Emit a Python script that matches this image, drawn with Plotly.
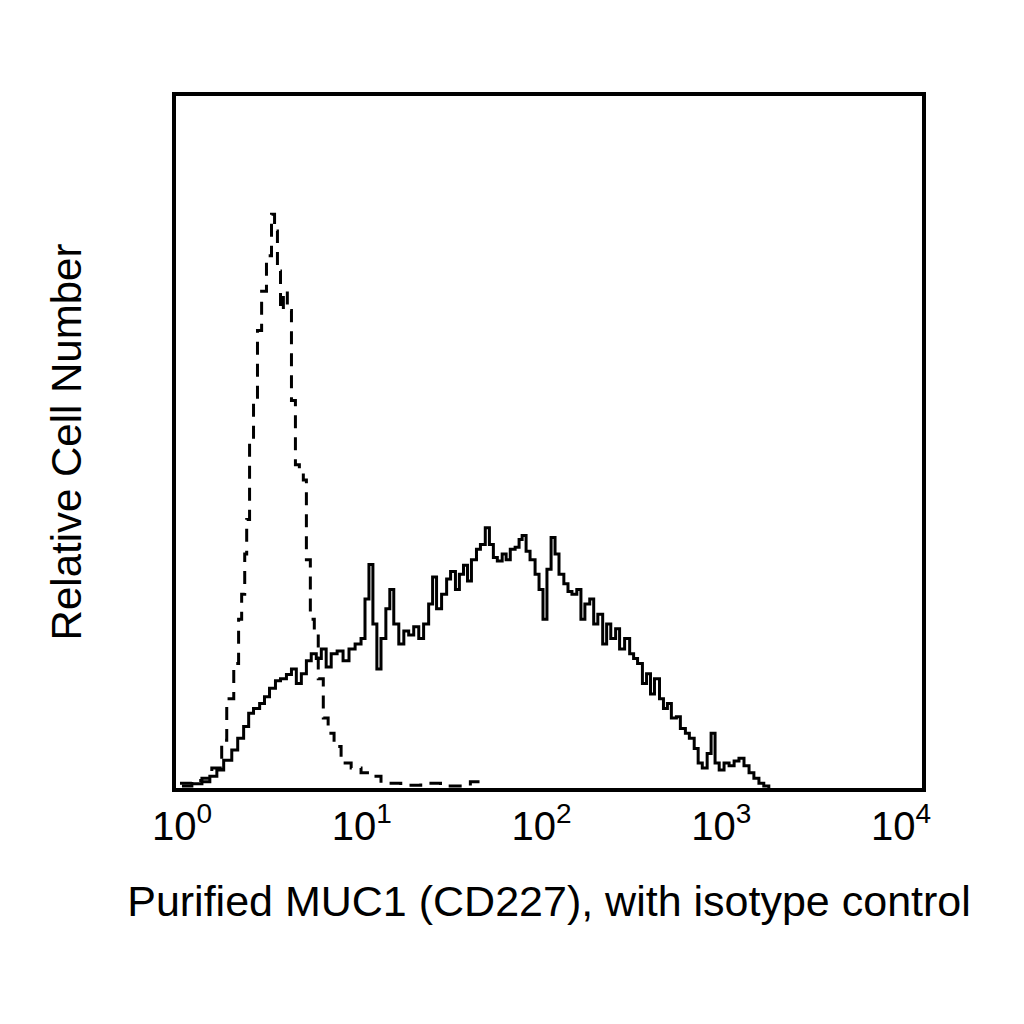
import numpy as np
import plotly.graph_objects as go

# Histogram data: x positions are log10 decades, y is relative count (0-100)
iso_log = [-0.011, 0.055, 0.111, 0.166, 0.221, 0.249, 0.288, 0.315, 0.332, 0.349,
           0.360, 0.376, 0.398, 0.420, 0.443, 0.470, 0.498, 0.515, 0.531, 0.548,
           0.564, 0.586, 0.609, 0.631, 0.653, 0.675, 0.692, 0.714, 0.736, 0.758,
           0.786, 0.813, 0.846, 0.885, 0.941, 0.996, 1.051, 1.107, 1.217, 1.328,
           1.438, 1.604, 1.660]
iso_count = [0.7, 1.1, 1.4, 2.9, 6.9, 12.9, 18.0, 24.4, 28.0, 33.8,
             38.8, 50.3, 56.0, 66.1, 71.8, 76.9, 82.9, 80.5, 74.7, 69.0,
             71.8, 69.0, 56.0, 46.7, 46.0, 44.5, 33.0, 24.4, 22.3, 15.8,
             10.1, 7.9, 6.0, 3.6, 2.9, 2.2, 1.7, 0.7, 0.4, 0.7,
             0.3, 0.9, 0.0]

muc1_log = [0.000, 0.055, 0.111, 0.155, 0.194, 0.232, 0.277, 0.310, 0.343, 0.371,
            0.398, 0.432, 0.459, 0.487, 0.520, 0.548, 0.581, 0.609, 0.636, 0.664,
            0.692, 0.719, 0.747, 0.775, 0.802, 0.830, 0.863, 0.896, 0.929, 0.963,
            0.996, 1.018, 1.040, 1.062, 1.084, 1.107, 1.134, 1.156, 1.178, 1.206,
            1.234, 1.261, 1.289, 1.317, 1.344, 1.372, 1.394, 1.416, 1.444, 1.472,
            1.494, 1.521, 1.543, 1.566, 1.588, 1.610, 1.638, 1.660, 1.687, 1.710,
            1.732, 1.754, 1.781, 1.803, 1.826, 1.853, 1.875, 1.892, 1.914, 1.936,
            1.964, 1.986, 2.008, 2.030, 2.053, 2.075, 2.097, 2.124, 2.147, 2.169,
            2.196, 2.219, 2.241, 2.268, 2.290, 2.313, 2.340, 2.362, 2.385, 2.412,
            2.434, 2.462, 2.490, 2.512, 2.534, 2.561, 2.584, 2.606, 2.628, 2.656,
            2.678, 2.700, 2.722, 2.750, 2.772, 2.800, 2.822, 2.849, 2.871, 2.894,
            2.921, 2.943, 2.965, 2.988, 3.015, 3.043, 3.071, 3.098, 3.126, 3.154,
            3.181, 3.209, 3.236, 3.264]
muc1_count = [0.3, 0.6, 0.9, 1.7, 2.6, 4.0, 5.5, 7.2, 8.9, 10.8,
              11.5, 12.2, 13.2, 14.4, 15.5, 15.8, 16.4, 17.2, 15.1, 16.5,
              18.4, 19.4, 18.7, 20.1, 17.5, 19.4, 19.8, 18.4, 20.1, 20.8,
              21.6, 27.3, 32.3, 23.7, 17.2, 21.6, 25.9, 28.7, 23.7, 20.8,
              22.7, 22.1, 23.3, 21.6, 23.7, 26.6, 30.5, 25.9, 28.0, 30.2,
              31.3, 28.7, 30.9, 32.2, 29.9, 33.0, 34.5, 35.2, 37.6, 35.2,
              33.3, 32.8, 33.8, 33.0, 34.5, 34.8, 35.9, 36.5, 34.2, 33.0,
              30.9, 28.7, 24.4, 31.6, 36.2, 33.8, 30.9, 29.5, 28.4, 28.0,
              28.7, 24.4, 26.6, 27.3, 23.7, 25.1, 20.8, 23.7, 21.6, 23.0,
              20.1, 21.6, 19.4, 18.7, 18.0, 15.1, 16.5, 13.6, 15.8, 12.9,
              11.5, 12.2, 10.1, 10.3, 8.6, 7.9, 7.2, 5.7, 3.6, 2.9,
              5.0, 7.9, 3.6, 2.6, 3.6, 3.2, 3.9, 4.3, 3.2, 2.2,
              1.4, 0.7, 0.3, 0.0]

tick_vals = [1, 10, 100, 1000, 10000]
tick_text = ["10<sup>0</sup>", "10<sup>1</sup>", "10<sup>2</sup>", "10<sup>3</sup>", "10<sup>4</sup>"]

fig = go.Figure()

# isotype control - dashed
fig.add_trace(go.Scatter(
    x=np.power(10, iso_log), y=iso_count,
    mode="lines", line=dict(color="black", width=3, dash="13px,9px", shape="hv"),
    showlegend=False,
))

# MUC1 staining - solid
fig.add_trace(go.Scatter(
    x=np.power(10, muc1_log), y=muc1_count,
    mode="lines", line=dict(color="black", width=3, shape="hv"),
    showlegend=False,
))

fig.update_layout(
    width=1024, height=1024,
    margin=dict(l=168, r=110, t=88, b=244),
    paper_bgcolor="white", plot_bgcolor="white",
    font=dict(family="Liberation Sans, Arial, sans-serif", size=36, color="black"),
)

fig.update_xaxes(
    type="log", range=[-0.0332, 4.116],
    tickvals=tick_vals, ticktext=tick_text, ticks="",
    showgrid=False, zeroline=False,
    showline=True, mirror=True, linewidth=4, linecolor="black",
    tickfont=dict(size=40),
    title=dict(text="Purified MUC1 (CD227), with isotype control", font=dict(size=43), standoff=40),
)
fig.update_yaxes(
    range=[0, 100], showticklabels=False, ticks="",
    showgrid=False, zeroline=False,
    showline=True, mirror=True, linewidth=4, linecolor="black",
    title=dict(text="Relative Cell Number", font=dict(size=42), standoff=78),
)

fig.write_html("out.html")
